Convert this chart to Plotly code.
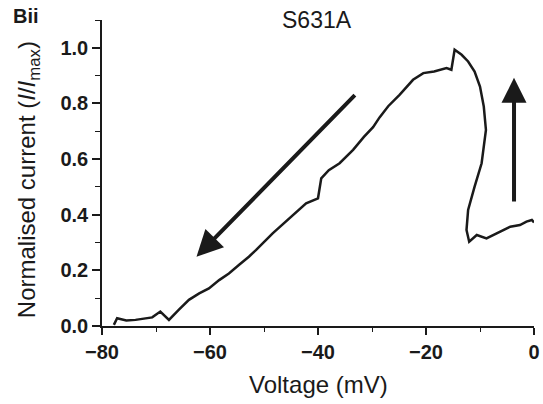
import plotly.graph_objects as go

# Data (ramp runs from 0 mV towards -80 mV)
voltage_mV = [0.0, -0.4, -1.4, -2.6, -4.4, -6.9, -8.8, -10.6, -12.0, -12.5,
              -12.2, -11.0, -9.7, -8.9, -9.3, -10.0, -11.0, -12.2, -13.4, -14.7,
              -15.3, -16.2, -18.5, -20.5, -22.4, -24.9, -27.0, -28.6, -29.8, -31.5,
              -33.5, -36.0, -38.0, -39.4, -40.0, -42.2, -45.3, -48.4, -51.5, -52.8,
              -54.6, -56.5, -58.3, -60.2, -62.0, -63.9, -65.8, -67.6, -69.2, -70.7,
              -73.8, -75.5, -77.2, -77.8]
norm_current = [0.372, 0.381, 0.375, 0.363, 0.357, 0.333, 0.315, 0.327, 0.303, 0.345,
                0.417, 0.501, 0.585, 0.705, 0.789, 0.861, 0.915, 0.951, 0.975, 0.993,
                0.921, 0.927, 0.915, 0.909, 0.885, 0.831, 0.79, 0.75, 0.715, 0.68,
                0.633, 0.585, 0.56, 0.531, 0.459, 0.441, 0.387, 0.333, 0.273, 0.249,
                0.22, 0.189, 0.165, 0.135, 0.117, 0.094, 0.058, 0.022, 0.052, 0.031,
                0.022, 0.02, 0.028, 0.004]

x_tickvals = [-80, -60, -40, -20, 0]
x_ticktext = ["\u221280", "\u221260", "\u221240", "\u221220", "0"]
y_tickvals = [0.0, 0.2, 0.4, 0.6, 0.8, 1.0]
y_ticktext = ["0.0", "0.2", "0.4", "0.6", "0.8", "1.0"]

FONT = "Liberation Sans, Arial, sans-serif"
INK = "#1a1a1a"

fig = go.Figure()
fig.add_trace(go.Scatter(x=voltage_mV, y=norm_current, mode="lines",
                         line=dict(color=INK, width=2.5), showlegend=False,
                         hoverinfo="skip"))

axis_common = dict(showline=True, linecolor=INK, linewidth=1.6, ticks="outside",
                   tickcolor=INK, tickwidth=1.6, showgrid=False, zeroline=False,
                   automargin=False,
                   tickfont=dict(family=FONT, size=20, color=INK, weight="bold"))

fig.update_xaxes(range=[-80, 0], tickvals=x_tickvals, ticktext=x_ticktext, ticklen=7,
                 minor=dict(dtick=10, ticklen=4, tickcolor=INK, tickwidth=1.4, ticks="outside"),
                 **axis_common)
fig.update_yaxes(range=[0, 1.1], tickvals=y_tickvals, ticktext=y_ticktext, ticklen=8,
                 minor=dict(dtick=0.1, ticklen=5, tickcolor=INK, tickwidth=1.4, ticks="outside"),
                 **axis_common)

label = dict(xref="paper", yref="paper", showarrow=False, xanchor="center", yanchor="middle")
annotations = [
    dict(text="<b>Bii</b>", x=-0.177, y=1.012, font=dict(family=FONT, size=20, color=INK), **label),
    dict(text="S631A", x=0.498, y=1.0, font=dict(family=FONT, size=23, color=INK), **label),
    dict(text="Voltage (mV)", x=0.5, y=-0.19, font=dict(family=FONT, size=24, color=INK), **label),
    dict(text="Normalised current (<i>I</i>/<i>I</i><sub>max</sub>)", x=-0.171, y=0.477,
         textangle=-90, font=dict(family=FONT, size=24, color=INK), **label),
    # arrows
    dict(x=-62.5, y=0.249, ax=-32.9, ay=0.835, xref="x", yref="y", axref="x", ayref="y",
         text="", showarrow=True, arrowhead=2, arrowsize=1.3, arrowwidth=4,
         arrowcolor=INK, standoff=0),
    dict(x=-3.7, y=0.892, ax=-3.7, ay=0.442, xref="x", yref="y", axref="x", ayref="y",
         text="", showarrow=True, arrowhead=2, arrowsize=1.25, arrowwidth=4,
         arrowcolor=INK, standoff=0),
]

fig.update_layout(width=543, height=404,
                  margin=dict(l=102, r=9, t=20, b=78, autoexpand=False),
                  plot_bgcolor="white", paper_bgcolor="white",
                  annotations=annotations, font=dict(family=FONT, color=INK))

fig.write_html("out.html", config={"displayModeBar": False},
               post_script="document.body.style.margin='0px';")
